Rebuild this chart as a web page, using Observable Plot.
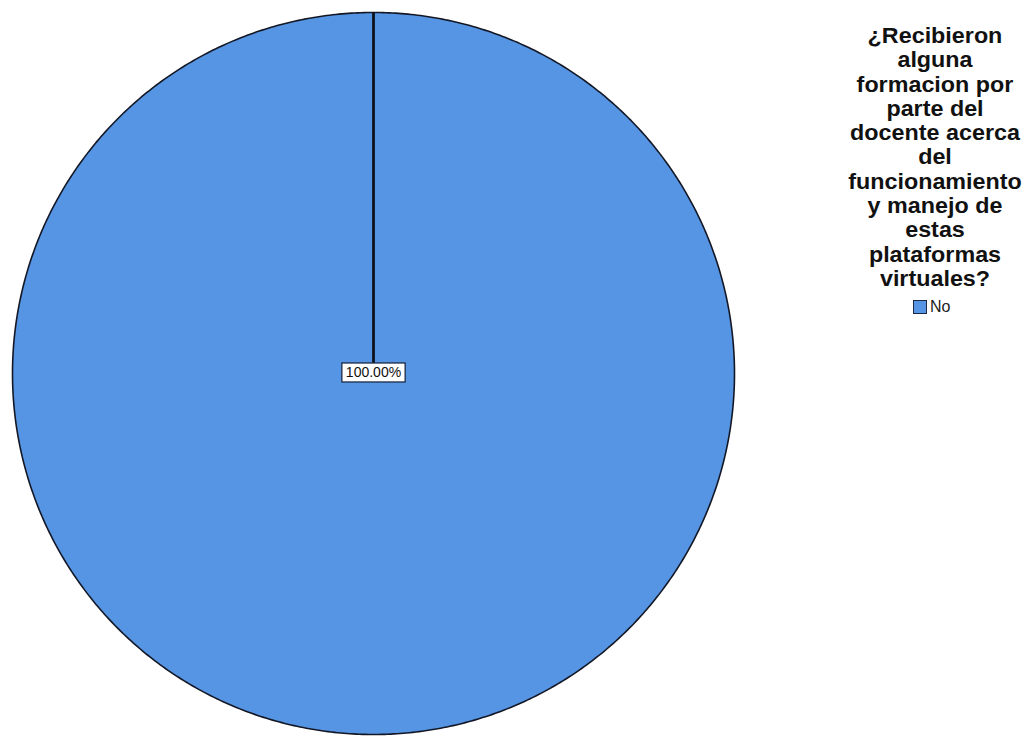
<!DOCTYPE html>
<html>
<head>
<meta charset="utf-8">
<script src="https://cdn.jsdelivr.net/npm/d3@7"></script>
<script src="https://cdn.jsdelivr.net/npm/@observablehq/plot@0.6"></script>
<style>
  html, body { margin: 0; padding: 0; background: #fff; }
  #wrap { position: relative; width: 1029px; height: 736px; overflow: hidden; }
  #legend { position: absolute; left: 820px; top: 24px; width: 230px; text-align: center;
            font-family: "Liberation Sans", Arial, sans-serif; }
  #legend .title { font-weight: bold; font-size: 22px; line-height: 24.3px; color: #111;
                   transform: scaleX(1.06); transform-origin: 115px 0; }
  #legend .item { position: absolute; left: 93px; top: 274px; display: flex; align-items: center;
                  font-size: 16px; color: #222; }
  #legend .sw { width: 12px; height: 12px; border: 1px solid #1e2a44; margin-right: 3px; }
</style>
</head>
<body>
<div id="wrap">
  <div id="chart"></div>
  <div id="legend"></div>
</div>
<script>
const categories = ["No"];
const percents = [100];
const colors = ["#5595e4"];
const legendTitleLines = ["¿Recibieron", "alguna", "formacion por", "parte del", "docente acerca", "del", "funcionamiento", "y manejo de", "estas", "plataformas", "virtuales?"];

const pie = d3.pie().sort(null)(percents);
// slice outlines in unit coordinates (angle 0 at top, clockwise)
const slicePts = [];
const edges = [];
pie.forEach((s, i) => {
  const n = Math.max(2, Math.ceil((s.endAngle - s.startAngle) / (Math.PI / 360)));
  slicePts.push({cat: categories[i], x: 0, y: 0, k: 0});
  for (let j = 0; j <= n; j++) {
    const a = s.startAngle + (s.endAngle - s.startAngle) * j / n;
    slicePts.push({cat: categories[i], x: Math.sin(a), y: Math.cos(a), k: j + 1});
  }
  slicePts.push({cat: categories[i], x: 0, y: 0, k: n + 2});
  edges.push({x1: 0, y1: 0, x2: Math.sin(s.startAngle), y2: Math.cos(s.startAngle)});
});
const labels = pie.map((s, i) => {
  const mid = (s.startAngle + s.endAngle) / 2;
  const rr = pie.length === 1 ? 0 : 0.6;
  return {cat: categories[i], x: rr * Math.sin(mid), y: rr * Math.cos(mid), text: percents[i].toFixed(2) + "%"};
});

const plot = Plot.plot({
  width: 1029,
  height: 736,
  margin: 0,
  x: {domain: [-1, 1], range: [12, 734], axis: null},
  y: {domain: [-1, 1], range: [734, 12], axis: null},
  color: {domain: categories, range: colors},
  marks: [
    Plot.line(slicePts, {x: "x", y: "y", z: "cat", fill: "cat", stroke: "#141826", strokeWidth: 1.6, curve: "linear"}),
    Plot.link(edges, {x1: "x1", y1: "y1", x2: "x2", y2: "y2", stroke: "#0d0f18", strokeWidth: 2.6}),
    Plot.text(labels, {x: "x", y: "y", dy: -1, text: "text", fontSize: 14, fill: "#111", fontFamily: "Liberation Sans, Arial, sans-serif", className: "pielabel"})
  ]
});
document.getElementById("chart").appendChild(plot);

// white framed box behind label
d3.select(plot).selectAll(".pielabel text").each(function() {
  const b = this.getBBox();
  const padX = 4, padY = 2;
  d3.select(this.parentNode).insert("rect", () => this)
    .attr("x", b.x - padX).attr("y", b.y - padY + 1)
    .attr("width", b.width + 2 * padX).attr("height", b.height + 2 * padY - 1)
    .attr("fill", "#fff").attr("stroke", "#1e2a44").attr("stroke-width", 1.3)
    .attr("transform", this.getAttribute("transform"));
});

const leg = document.getElementById("legend");
const t = document.createElement("div");
t.className = "title";
t.innerHTML = legendTitleLines.join("<br>");
leg.appendChild(t);
categories.forEach((c, i) => {
  const it = document.createElement("div");
  it.className = "item";
  it.innerHTML = `<span class="sw" style="background:${colors[i]}"></span><span>${c}</span>`;
  leg.appendChild(it);
});
</script>
</body>
</html>
